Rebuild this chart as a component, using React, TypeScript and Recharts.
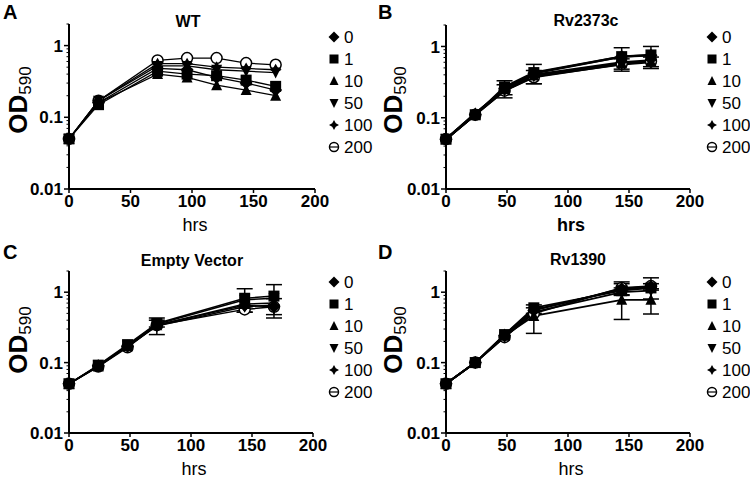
import React from "react";
import { LineChart, Line, XAxis, YAxis, ErrorBar } from "recharts";

const FONT = "Arial, 'Liberation Sans', sans-serif";
const SERIES_LABELS = ["0", "1", "10", "50", "100", "200"];
// open circles (200) sit underneath, the filled symbols are drawn over them
const DRAW_ORDER = [5, 4, 3, 2, 0, 1];

// WT
const WT_HOURS = [0, 24, 72, 96, 120, 144, 168];
const WT_OD = [
  [0.05, 0.16, 0.48, 0.46, 0.36, 0.3, 0.24],
  [0.05, 0.15, 0.44, 0.4, 0.38, 0.33, 0.27],
  [0.05, 0.16, 0.4, 0.36, 0.28, 0.24, 0.2],
  [0.05, 0.17, 0.52, 0.52, 0.46, 0.44, 0.42],
  [0.05, 0.17, 0.56, 0.56, 0.5, 0.48, 0.46],
  [0.05, 0.17, 0.62, 0.67, 0.67, 0.57, 0.54],
];
const WT_ERR: (number[] | null)[] = [null, null, null, null, null, null];

// Rv2373c
const RV2373C_HOURS = [0, 24, 48, 72, 144, 168];
const RV2373C_OD = [
  [0.05, 0.11, 0.26, 0.42, 0.72, 0.75],
  [0.05, 0.11, 0.27, 0.43, 0.72, 0.76],
  [0.05, 0.115, 0.25, 0.39, 0.58, 0.62],
  [0.05, 0.11, 0.24, 0.38, 0.56, 0.6],
  [0.05, 0.115, 0.25, 0.4, 0.6, 0.64],
  [0.05, 0.11, 0.24, 0.37, 0.57, 0.62],
];
const RV2373C_ERR: (number[] | null)[] = [
  null,
  [0, 0, 0.06, 0.13, 0.24, 0.24],
  null,
  [0, 0, 0.05, 0.08, 0.11, 0.11],
  null,
  null,
];

// Empty Vector
const EV_HOURS = [0, 24, 48, 72, 144, 168];
const EV_OD = [
  [0.05, 0.09, 0.17, 0.34, 0.65, 0.62],
  [0.05, 0.092, 0.18, 0.36, 0.82, 0.88],
  [0.05, 0.088, 0.17, 0.34, 0.68, 0.7],
  [0.05, 0.09, 0.175, 0.35, 0.78, 0.82],
  [0.05, 0.09, 0.17, 0.33, 0.62, 0.66],
  [0.05, 0.088, 0.165, 0.34, 0.57, 0.62],
];
const EV_ERR: (number[] | null)[] = [
  null,
  [0, 0, 0, 0.04, 0.3, 0.4],
  null,
  null,
  null,
  [0, 0, 0, 0.09, 0.05, 0.19],
];

// Rv1390
const RV1390_HOURS = [0, 24, 48, 72, 144, 168];
const RV1390_OD = [
  [0.05, 0.1, 0.24, 0.55, 1.12, 1.2],
  [0.05, 0.1, 0.25, 0.6, 1.05, 1.15],
  [0.05, 0.1, 0.24, 0.46, 0.78, 0.78],
  [0.05, 0.1, 0.23, 0.52, 1.0, 1.05],
  [0.05, 0.1, 0.25, 0.56, 1.1, 1.15],
  [0.05, 0.1, 0.23, 0.5, 1.15, 1.22],
];
const RV1390_ERR: (number[] | null)[] = [
  [0, 0, 0, 0.05, 0.2, 0.4],
  null,
  [0, 0, 0, 0.2, 0.37, 0.29],
  null,
  null,
  [0, 0, 0, 0, 0.25, 0.1],
];

const X_TICKS = [0, 50, 100, 150, 200];
const Y_TICKS = [
  0.01, 0.02, 0.03, 0.04, 0.05, 0.06, 0.07, 0.08, 0.09,
  0.1, 0.2, 0.3, 0.4, 0.5, 0.6, 0.7, 0.8, 0.9,
  1, 2,
];
const Y_MAJOR: Record<string, string> = { "0.01": "0.01", "0.1": "0.1", "1": "1" };

function Marker({ kind, cx, cy, s = 5.5 }: { kind: number; cx: number; cy: number; s?: number }) {
  if (cx == null || cy == null) return null;
  switch (kind) {
    case 0:
      return <polygon points={`${cx},${cy - s - 1} ${cx + s + 1},${cy} ${cx},${cy + s + 1} ${cx - s - 1},${cy}`} fill="#000" />;
    case 1:
      return <rect x={cx - s} y={cy - s} width={s * 2} height={s * 2} fill="#000" />;
    case 2:
      return <polygon points={`${cx},${cy - s - 0.5} ${cx + s},${cy + s - 0.5} ${cx - s},${cy + s - 0.5}`} fill="#000" />;
    case 3:
      return <polygon points={`${cx},${cy + s + 0.5} ${cx + s},${cy - s + 0.5} ${cx - s},${cy - s + 0.5}`} fill="#000" />;
    case 4: {
      const a = s + 0.5;
      const b = s * 0.4;
      return (
        <polygon
          points={`${cx},${cy - a} ${cx + b},${cy - b} ${cx + a},${cy} ${cx + b},${cy + b} ${cx},${cy + a} ${cx - b},${cy + b} ${cx - a},${cy} ${cx - b},${cy - b}`}
          fill="#000"
        />
      );
    }
    default:
      return <circle cx={cx} cy={cy} r={s} fill="#fff" stroke="#000" strokeWidth={1.5} />;
  }
}

function YTick(props: any) {
  const { x, y, payload } = props;
  const label = Y_MAJOR[String(payload.value)];
  if (label) {
    return (
      <g>
        <line x1={x - 5} x2={x} y1={y} y2={y} stroke="#000" strokeWidth={1.5} />
        <text x={x - 6} y={y} dy="0.36em" textAnchor="end" fontFamily={FONT} fontWeight="bold" fontSize={17} fill="#000">
          {label}
        </text>
      </g>
    );
  }
  return <line x1={x - 2.5} x2={x} y1={y} y2={y} stroke="#000" strokeWidth={1} />;
}

interface PanelProps {
  left: number;
  top: number;
  letter: string;
  title: string;
  titleX: number;
  titleY: number;
  hours: number[];
  od: number[][];
  err: (number[] | null)[];
  plotLeft: number;
  plotRight: number;
  plotTop: number;
  plotBottom: number;
  legendX: number;
  legendY: number;
  hrsBold?: boolean;
  lineWidth: number;
}

const W = 375;
const H = 240;

function Panel(p: PanelProps) {
  const rows = p.hours.map((hr, i) => {
    const row: Record<string, number> = { hr };
    p.od.forEach((vals, s) => {
      row[`s${s}`] = vals[i];
      const e = p.err[s];
      if (e) row[`e${s}`] = e[i];
    });
    return row;
  });
  const yAxisWidth = 50;
  const xAxisHeight = 30;
  const odY = 100;
  return (
    <div style={{ position: "absolute", left: p.left, top: p.top, width: W, height: H }}>
      <LineChart
        width={W}
        height={H}
        data={rows}
        margin={{
          top: p.plotTop,
          right: W - p.plotRight,
          bottom: H - p.plotBottom - xAxisHeight,
          left: p.plotLeft - yAxisWidth,
        }}
      >
        <XAxis
          dataKey="hr"
          type="number"
          domain={[0, 200]}
          ticks={X_TICKS}
          height={xAxisHeight}
          axisLine={{ stroke: "#000", strokeWidth: 2 }}
          tickLine={{ stroke: "#000", strokeWidth: 1.5 }}
          tickSize={4}
          tickMargin={2}
          tick={{ fill: "#000", fontSize: 17, fontWeight: "bold", fontFamily: FONT }}
        />
        <YAxis
          scale="log"
          domain={[0.01, 2]}
          allowDataOverflow
          ticks={Y_TICKS}
          interval={0}
          width={yAxisWidth}
          axisLine={{ stroke: "#000", strokeWidth: 2 }}
          tickLine={false}
          tickSize={0}
          tickMargin={0}
          tick={<YTick />}
        />
        {DRAW_ORDER.map((s) => (
          <Line
            key={s}
            dataKey={`s${s}`}
            type="linear"
            stroke="#000"
            strokeWidth={p.lineWidth}
            isAnimationActive={false}
            dot={(d: any) => <Marker key={`d${s}-${d.index}`} kind={s} cx={d.cx} cy={d.cy} />}
            activeDot={false}
          >
            {p.err[s] ? (
              <ErrorBar dataKey={`e${s}`} width={8} stroke="#000" strokeWidth={1.5} direction="y" isAnimationActive={false} />
            ) : null}
          </Line>
        ))}
      </LineChart>
      <svg width={W} height={H} style={{ position: "absolute", left: 0, top: 0, pointerEvents: "none" }}>
        <text x={3} y={19} fontFamily={FONT} fontWeight="bold" fontSize={20} fill="#000">
          {p.letter}
        </text>
        <text x={p.titleX} y={p.titleY} dy="0.36em" textAnchor="middle" fontFamily={FONT} fontWeight="bold" fontSize={16} fill="#000">
          {p.title}
        </text>
        <text
          x={27}
          y={odY}
          textAnchor="middle"
          transform={`rotate(-90, 27, ${odY})`}
          fontFamily={FONT}
          fill="#000"
        >
          <tspan fontWeight="bold" fontSize={26}>OD</tspan>
          <tspan fontSize={17} dy={4}>590</tspan>
        </text>
        <text
          x={(p.plotLeft + p.plotRight) / 2 + 3}
          y={p.plotBottom + 42}
          textAnchor="middle"
          fontFamily={FONT}
          fontWeight={p.hrsBold ? "bold" : "normal"}
          fontSize={18}
          fill="#000"
        >
          hrs
        </text>
        {SERIES_LABELS.map((lab, s) => {
          const y = p.legendY + s * 22;
          return (
            <g key={lab}>
              <Marker kind={s} cx={p.legendX} cy={y} s={4.5} />
              {s === 5 ? <line x1={p.legendX - 4.5} x2={p.legendX + 4.5} y1={y} y2={y} stroke="#000" strokeWidth={1.2} /> : null}
              <text x={p.legendX + 10} y={y} dy="0.36em" fontFamily={FONT} fontSize={17} fill="#000">
                {lab}
              </text>
            </g>
          );
        })}
      </svg>
    </div>
  );
}

export default function App() {
  return (
    <div style={{ position: "absolute", left: 0, top: 0, width: 750, height: 481, background: "#fff" }}>
      <Panel
        left={0}
        top={0}
        letter="A"
        title="WT"
        titleX={188}
        titleY={21}
        hours={WT_HOURS}
        od={WT_OD}
        err={WT_ERR}
        plotLeft={69}
        plotRight={315}
        plotTop={24}
        plotBottom={189}
        legendX={334}
        legendY={37}
        lineWidth={1.3}
      />
      <Panel
        left={375}
        top={0}
        letter="B"
        title="Rv2373c"
        titleX={211}
        titleY={20}
        hours={RV2373C_HOURS}
        od={RV2373C_OD}
        err={RV2373C_ERR}
        plotLeft={71}
        plotRight={315}
        plotTop={25}
        plotBottom={189}
        legendX={337}
        legendY={37}
        hrsBold
        lineWidth={2.2}
      />
      <Panel
        left={0}
        top={240}
        letter="C"
        title="Empty Vector"
        titleX={192}
        titleY={20}
        hours={EV_HOURS}
        od={EV_OD}
        err={EV_ERR}
        plotLeft={69}
        plotRight={313}
        plotTop={31}
        plotBottom={193}
        legendX={334}
        legendY={42}
        lineWidth={1.5}
      />
      <Panel
        left={375}
        top={240}
        letter="D"
        title="Rv1390"
        titleX={203}
        titleY={19}
        hours={RV1390_HOURS}
        od={RV1390_OD}
        err={RV1390_ERR}
        plotLeft={71}
        plotRight={315}
        plotTop={31}
        plotBottom={193}
        legendX={337}
        legendY={42}
        lineWidth={1.8}
      />
    </div>
  );
}
